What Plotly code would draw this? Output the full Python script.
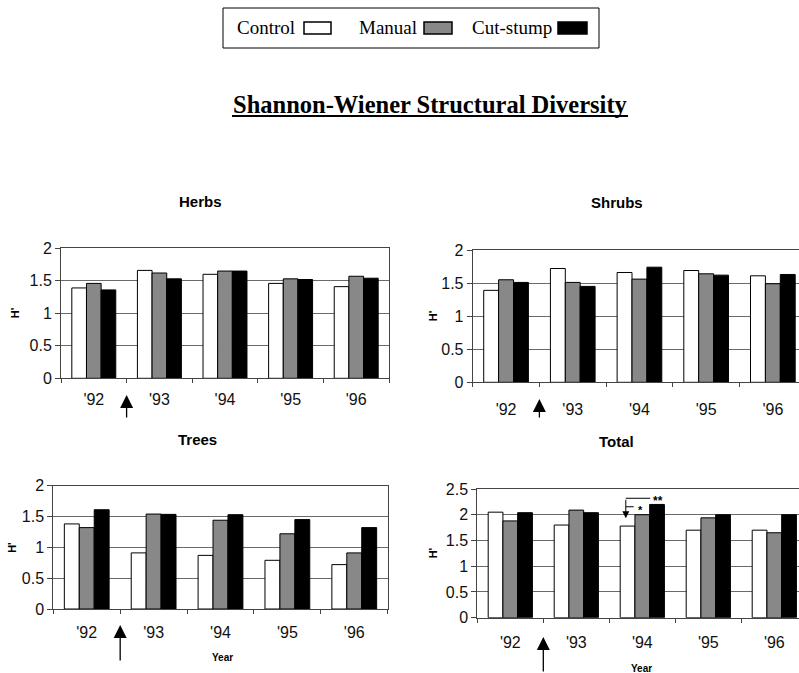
import plotly.graph_objects as go

# ---- data -------------------------------------------------------------
years = ["'92", "'93", "'94", "'95", "'96"]
treatments = ["Control", "Manual", "Cut-stump"]

herbs_control = [1.39, 1.66, 1.60, 1.46, 1.41]
herbs_manual = [1.46, 1.62, 1.65, 1.53, 1.57]
herbs_cut = [1.36, 1.53, 1.65, 1.52, 1.54]

shrubs_control = [1.39, 1.72, 1.66, 1.69, 1.61]
shrubs_manual = [1.55, 1.51, 1.56, 1.64, 1.49]
shrubs_cut = [1.51, 1.45, 1.74, 1.62, 1.63]

trees_control = [1.38, 0.91, 0.87, 0.79, 0.72]
trees_manual = [1.32, 1.54, 1.44, 1.22, 0.91]
trees_cut = [1.61, 1.535, 1.53, 1.45, 1.32]

total_control = [2.05, 1.80, 1.78, 1.70, 1.70]
total_manual = [1.88, 2.09, 2.00, 1.94, 1.65]
total_cut = [2.04, 2.04, 2.20, 2.00, 2.00]

# ---- styling ----------------------------------------------------------
W, H = 799, 673
SANS = "Liberation Sans, Arial, sans-serif"
SERIF = "Liberation Serif, Times New Roman, serif"
fills = {"Control": "#ffffff", "Manual": "#888888", "Cut-stump": "#000000"}
GRID = "#6a6a6a"


def px(x):
    return x / W


def py(y):
    return 1 - y / H


def label(text, x, y, size, family=SANS, **kw):
    d = dict(text=text, xref="paper", yref="paper", x=px(x), y=py(y), showarrow=False,
             xanchor="center", yanchor="middle",
             font=dict(family=family, size=size, color="#000000"))
    d.update(kw)
    return d


panels = [
    # name, series, axis suffix, pixel box (left, right, top, bottom), y max, x range end, label gap
    ("Herbs", (herbs_control, herbs_manual, herbs_cut), "", (61, 389, 248.3, 378.3), 2.0, 4.5, 6),
    ("Shrubs", (shrubs_control, shrubs_manual, shrubs_cut), "2", (472.7, 799, 250, 382.3), 2.0,
     -0.5 + (799 - 472.7) / 66.7, 12),
    ("Trees", (trees_control, trees_manual, trees_cut), "3", (53.3, 387.7, 485.7, 609), 2.0, 4.5, 9),
    ("Total", (total_control, total_manual, total_cut), "4", (477.3, 799, 489, 617.7), 2.5,
     -0.5 + (799 - 477.3) / 66.0, 10),
]
title_pos = {"Herbs": (200, 201), "Shrubs": (617, 202), "Trees": (197, 439), "Total": (616, 441)}
htitle_x = {"Herbs": 15, "Shrubs": 433, "Trees": 12.5, "Total": 433}

fig = go.Figure()
layout = {}
annotations = []
shapes = []

for name, series, suf, (l, r, t, b), ymax, xend, gap in panels:
    xa, ya = "x" + suf, "y" + suf
    for trt, vals in zip(treatments, series):
        fig.add_trace(go.Bar(
            x=years, y=vals, name=trt, xaxis=xa, yaxis=ya,
            marker=dict(color=fills[trt], line=dict(color="#000000", width=1)),
            showlegend=False,
        ))
    clipped = r >= W
    layout["xaxis" + suf] = dict(
        domain=[px(l), px(r)], anchor=ya, type="category", range=[-0.5, xend],
        showline=True, linecolor="#444444", linewidth=1, mirror=True,
        ticks="outside", tickson="boundaries", ticklen=4, tickcolor="#444444",
        showgrid=False, tickfont=dict(family=SANS, size=16, color="#111111"),
        ticklabelstandoff=gap, automargin=False, fixedrange=True,
    )
    layout["yaxis" + suf] = dict(
        domain=[py(b), py(t)], anchor=xa, range=[0, ymax], dtick=0.5,
        showline=True, linecolor="#444444", linewidth=1, mirror=not clipped,
        ticks="outside", ticklen=5, tickcolor="#444444",
        showgrid=True, gridcolor=GRID, gridwidth=1, zeroline=False,
        tickfont=dict(family=SANS, size=16, color="#111111"),
        automargin=False, fixedrange=True,
    )
    tx, ty = title_pos[name]
    annotations.append(label("<b>%s</b>" % name, tx, ty, 15))
    annotations.append(label("<b>H'</b>", htitle_x[name], (t + b) / 2, 11, textangle=-90))

# treatment-start arrows between '92 and '93
arrow_specs = [("x", 395, 24), ("x2", 399, 20), ("x3", 625, 37), ("x4", 637, 36)]
for xr, tip, length in arrow_specs:
    annotations.append(dict(
        xref=xr, yref="paper", x=0.5, y=py(tip), ax=0, ay=length,
        text="", showarrow=True, arrowhead=2, arrowsize=2.0, arrowwidth=1.3,
        arrowcolor="#000000",
    ))

# "Year" labels
annotations.append(label("<b>Year</b>", 222, 657, 10))
annotations.append(label("<b>Year</b>", 641, 668, 10))

# significance bracket for 1994 total diversity
shapes.append(dict(type="line", xref="x4", yref="y4", x0=1.75, x1=2.12, y0=2.32, y1=2.32,
                   line=dict(color="#000000", width=1)))
shapes.append(dict(type="line", xref="x4", yref="y4", x0=1.75, x1=1.87, y0=2.155, y1=2.155,
                   line=dict(color="#000000", width=1)))
annotations.append(dict(xref="x4", yref="y4", x=1.75, y=1.93, ax=1.75, ay=2.32,
                        axref="x4", ayref="y4", text="", showarrow=True, arrowhead=2,
                        arrowsize=1.4, arrowwidth=1, arrowcolor="#000000"))
annotations.append(dict(text="<b>**</b>", xref="x4", yref="y4", x=2.24, y=2.27, showarrow=False,
                        xanchor="center", yanchor="middle",
                        font=dict(family=SANS, size=12, color="#000000")))
annotations.append(dict(text="<b>*</b>", xref="x4", yref="y4", x=1.98, y=2.10, showarrow=False,
                        xanchor="center", yanchor="middle",
                        font=dict(family=SANS, size=11, color="#000000")))

# legend box (text followed by swatch)
shapes.append(dict(type="rect", xref="paper", yref="paper", x0=px(223), x1=px(599),
                   y0=py(48), y1=py(8), line=dict(color="#000000", width=1), fillcolor="white"))
legend_items = [("Control", 265.5, 304, 331), ("Manual", 388, 424, 452), ("Cut-stump", 512, 558, 587)]
for trt, tx, s0, s1 in legend_items:
    annotations.append(label(trt, tx, 28, 19, family=SERIF))
    shapes.append(dict(type="rect", xref="paper", yref="paper", x0=px(s0), x1=px(s1),
                       y0=py(34), y1=py(22), fillcolor=fills[trt],
                       line=dict(color="#000000", width=1.5)))

# main title with underline
annotations.append(label("<b>Shannon-Wiener Structural Diversity</b>", 430.5, 104, 24.5,
                         family=SERIF))
shapes.append(dict(type="line", xref="paper", yref="paper", x0=px(232), x1=px(628),
                   y0=py(116), y1=py(116), line=dict(color="#000000", width=2)))

fig.update_layout(
    width=W, height=H, autosize=False,
    margin=dict(l=0, r=0, t=0, b=0, pad=0),
    paper_bgcolor="white", plot_bgcolor="white",
    barmode="group", bargap=0.33, bargroupgap=0,
    annotations=annotations, shapes=shapes, showlegend=False,
    **layout,
)

fig.write_html("out.html")
